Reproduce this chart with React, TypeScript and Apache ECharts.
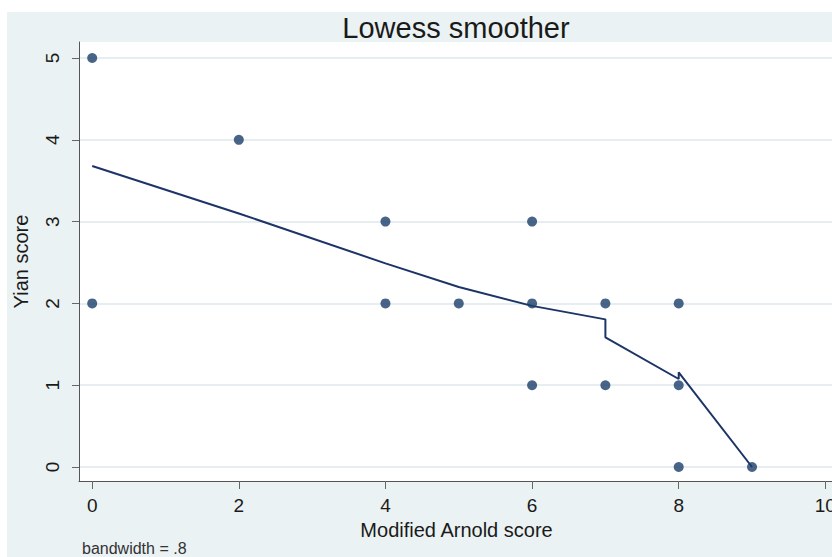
import React, { useEffect, useRef } from "react";
import * as echarts from "echarts";

const scatterX = [0, 0, 2, 4, 4, 5, 6, 6, 6, 7, 7, 8, 8, 8, 9];
const scatterY = [5, 2, 4, 3, 2, 2, 3, 2, 1, 2, 1, 2, 1, 0, 0];
const lowessX = [0, 2, 4, 5, 6, 7, 7, 8, 8, 9];
const lowessY = [3.68, 3.1, 2.49, 2.2, 1.97, 1.805, 1.585, 1.076, 1.158, 0];
const xTicks = [0, 2, 4, 6, 8, 10];
const yTicks = [0, 1, 2, 3, 4, 5];
const titleText = "Lowess smoother";
const xName = "Modified Arnold score";
const yName = "Yian score";
const noteText = "bandwidth = .8";

const FONT = "Liberation Sans, Arial, sans-serif";

export default function App() {
  const ref = useRef<HTMLDivElement>(null);
  useEffect(() => {
    document.body.style.margin = "0";
    if (!ref.current) return;
    const chart = echarts.init(ref.current, null, { renderer: "svg" });
    chart.setOption({
      animation: false,
      backgroundColor: "#ffffff",
      textStyle: { fontFamily: FONT },
      graphic: [
        {
          type: "rect",
          z: -10,
          silent: true,
          shape: { x: 7, y: 12, width: 840, height: 560 },
          style: { fill: "#eaf2f3" },
        },
        {
          type: "text",
          x: 456,
          y: 28,
          style: {
            text: titleText,
            fontSize: 29,
            fontFamily: FONT,
            fill: "#1a1a1a",
            textAlign: "center",
            textVerticalAlign: "middle",
          },
        },
        {
          type: "text",
          x: 82,
          y: 548,
          style: {
            text: noteText,
            fontSize: 16,
            fontFamily: FONT,
            fill: "#333",
            textAlign: "left",
            textVerticalAlign: "middle",
          },
        },
      ],
      grid: {
        left: 79,
        top: 42,
        right: -30,
        bottom: 76,
        show: true,
        backgroundColor: "#ffffff",
        borderWidth: 0,
        containLabel: false,
        outerBoundsMode: "none",
      },
      xAxis: {
        type: "value",
        min: -0.18,
        max: 10.5,
        name: xName,
        nameLocation: "middle",
        nameGap: 33,
        nameTextStyle: {
          fontSize: 20,
          color: "#1a1a1a",
          fontFamily: FONT,
          padding: [0, 28, 0, 0],
        },
        axisLine: { show: true, onZero: false, lineStyle: { color: "#555", width: 1 } },
        axisTick: { show: true, length: 8, customValues: xTicks, lineStyle: { color: "#666" } },
        axisLabel: {
          customValues: xTicks,
          fontSize: 19,
          color: "#1a1a1a",
          margin: 15,
          fontFamily: FONT,
        },
        splitLine: { show: false },
      },
      yAxis: {
        type: "value",
        min: -0.171,
        max: 5.196,
        name: yName,
        nameLocation: "middle",
        nameRotate: 90,
        nameGap: 48,
        nameTextStyle: { fontSize: 20, color: "#1a1a1a", fontFamily: FONT },
        axisLine: { show: true, onZero: false, lineStyle: { color: "#555", width: 1 } },
        axisTick: { show: true, length: 7, customValues: yTicks, lineStyle: { color: "#666" } },
        axisLabel: {
          customValues: yTicks,
          rotate: 90,
          fontSize: 19,
          color: "#1a1a1a",
          margin: 17,
          fontFamily: FONT,
        },
        splitLine: { show: true, lineStyle: { color: "#e6eef1", width: 2 } },
      },
      series: [
        {
          type: "line",
          data: lowessX.map((x, i) => [x, lowessY[i]]),
          showSymbol: false,
          symbol: "none",
          lineStyle: { color: "#1c3466", width: 2 },
          z: 3,
        },
        {
          type: "scatter",
          data: scatterX.map((x, i) => [x, scatterY[i]]),
          symbol: "circle",
          symbolSize: 10,
          itemStyle: { color: "#1a3f6a" },
          z: 4,
        },
      ],
    });
    return () => chart.dispose();
  }, []);
  return <div ref={ref} style={{ width: 832, height: 557 }} />;
}
